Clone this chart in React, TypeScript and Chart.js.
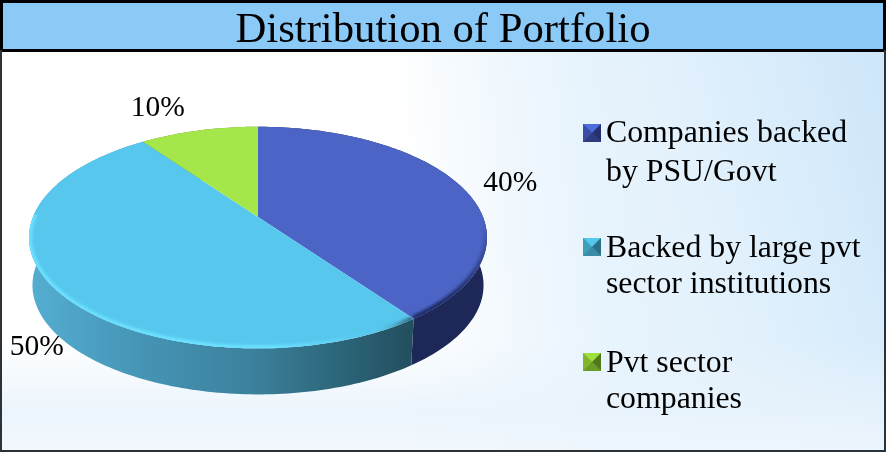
import React, { useEffect, useRef } from "react";
import { Chart, registerables } from "chart.js";

Chart.register(...registerables);

const titleText = "Distribution of Portfolio";
const categories = ["Companies backed by PSU/Govt", "Backed by large pvt sector institutions", "Pvt sector companies"];
const legendLines = [
  ["Companies backed", "by PSU/Govt"],
  ["Backed by large pvt", "sector institutions"],
  ["Pvt sector", "companies"],
];
const portfolioShare = [40, 50, 10];

const topColors = ["#4b64c5", "#57c7ee", "#a5e64b"];
const SERIF = '"Liberation Serif", "Times New Roman", serif';

// projection of the pie's unit circle onto the tilted disc
const CX = 258, CY = 217, BX = 225, BY = 107, K = 0.1855, DEPTH = 48;
const proj = (a: number, drop = 0, shrink = 1) => {
  const u = Math.cos(a), v = Math.sin(a), w = 1 - K * v;
  return [CX + (BX * shrink * u) / w, CY + drop + (BY * shrink * v) / w];
};
const arcPts = (s: number, e: number, drop = 0, shrink = 1) => {
  const n = Math.max(8, Math.ceil(Math.abs(e - s) / 0.02));
  const out: number[][] = [];
  for (let i = 0; i <= n; i++) out.push(proj(s + ((e - s) * i) / n, drop, shrink));
  return out;
};

const disc3d = {
  id: "disc3d",
  beforeDraw(chart: any) {
    const { ctx, width: W, height: H } = chart;
    ctx.save();
    ctx.fillStyle = "#ffffff";
    ctx.fillRect(0, 0, W, H);
    let g = ctx.createLinearGradient(400, 0, W, 0);
    g.addColorStop(0, "rgba(232,244,253,0)");
    g.addColorStop(0.4, "rgba(232,244,253,0.8)");
    g.addColorStop(1, "rgba(232,244,253,1)");
    ctx.fillStyle = g;
    ctx.fillRect(0, 0, W, H);
    g = ctx.createLinearGradient(420, 200, W, 50);
    g.addColorStop(0, "rgba(214,235,250,0)");
    g.addColorStop(0.5, "rgba(214,235,250,0.35)");
    g.addColorStop(1, "rgba(205,230,250,1)");
    ctx.fillStyle = g;
    ctx.fillRect(0, 0, W, H);
    g = ctx.createLinearGradient(0, 340, 0, H);
    g.addColorStop(0, "rgba(232,243,252,0)");
    g.addColorStop(0.65, "rgba(232,243,252,0.85)");
    g.addColorStop(1, "rgba(240,247,253,0.8)");
    ctx.fillStyle = g;
    ctx.fillRect(0, 340, W, H - 340);
    // title band and frame
    ctx.fillStyle = "#8bc9f7";
    ctx.fillRect(0, 0, W, 50);
    ctx.fillStyle = "#000000";
    ctx.fillRect(0, 0, W, 3);
    ctx.fillRect(0, 49, W, 3);
    ctx.fillRect(0, 0, 3, 50);
    ctx.fillRect(W - 3, 0, 3, 50);
    ctx.fillStyle = "#2b3238";
    ctx.fillRect(0, 50, 2, H - 50);
    ctx.fillRect(W - 2, 50, 2, H - 50);
    ctx.fillRect(0, H - 2, W, 2);
    ctx.restore();
  },
  beforeDatasetsDraw(chart: any) {
    const { ctx } = chart;
    const arcs = chart.getDatasetMeta(0).data;
    ctx.save();
    // side walls
    arcs.forEach((arc: any, i: number) => {
      const top = arcPts(arc.startAngle, arc.endAngle);
      const low = arcPts(arc.startAngle, arc.endAngle, DEPTH, 0.985).reverse();
      ctx.beginPath();
      [...top, ...low].forEach(([x, y], j) => (j ? ctx.lineTo(x, y) : ctx.moveTo(x, y)));
      ctx.closePath();
      if (i === 1) {
        const g = ctx.createLinearGradient(30, 0, 408, 0);
        g.addColorStop(0, "#54aed2");
        g.addColorStop(0.3, "#4594b5");
        g.addColorStop(0.6, "#3b809b");
        g.addColorStop(0.82, "#2c6579");
        g.addColorStop(1, "#235060");
        ctx.fillStyle = g;
      } else {
        ctx.fillStyle = i === 0 ? "#1e2858" : "#5f8a2c";
      }
      ctx.fill();
    });
    // top surface
    arcs.forEach((arc: any, i: number) => {
      const pts = arcPts(arc.startAngle, arc.endAngle);
      const path = new Path2D();
      path.moveTo(CX, CY);
      pts.forEach(([x, y]) => path.lineTo(x, y));
      path.closePath();
      ctx.fillStyle = topColors[i];
      ctx.fill(path);
      if (i === 2) return;
      // soft rim bevel on the near edge only
      ctx.save();
      ctx.clip(path);
      const rim = new Path2D();
      pts.forEach(([x, y], j) => (j ? rim.lineTo(x, y) : rim.moveTo(x, y)));
      if (i === 1) {
        const g = ctx.createLinearGradient(30, 0, 408, 0);
        g.addColorStop(0, "rgba(108,226,255,1)");
        g.addColorStop(0.65, "rgba(108,226,255,1)");
        g.addColorStop(0.9, "rgba(108,226,255,0)");
        g.addColorStop(1, "rgba(40,90,110,0.8)");
        ctx.beginPath();
        ctx.rect(0, 215, 886, 240);
        ctx.clip();
        ctx.strokeStyle = g;
        ctx.lineWidth = 6;
      } else {
        const g = ctx.createLinearGradient(0, 220, 0, 300);
        g.addColorStop(0, "rgba(25,35,90,0)");
        g.addColorStop(1, "rgba(25,35,90,0.9)");
        ctx.strokeStyle = g;
        ctx.lineWidth = 7;
      }
      (ctx as any).filter = "blur(1.5px)";
      ctx.stroke(rim);
      ctx.restore();
    });
    // percent labels
    const labelOffset = [[50, -2], [-17, 60], [-41, -22]];
    ctx.fillStyle = "#000000";
    ctx.font = `29.5px ${SERIF}`;
    ctx.textAlign = "center";
    ctx.textBaseline = "middle";
    arcs.forEach((arc: any, i: number) => {
      const [x, y] = proj((arc.startAngle + arc.endAngle) / 2);
      ctx.fillText(`${portfolioShare[i]}%`, x + labelOffset[i][0], y + labelOffset[i][1]);
    });
    // legend
    const swatches = [
      ["#4d6ddc", "#3a4ea5", "#2e3b80", "#26306f"],
      ["#55c8ee", "#3f9fbb", "#3a8ba6", "#2a6f85"],
      ["#9fe040", "#7fb62e", "#6a9c26", "#4f7a1b"],
    ];
    const swatchTop = [124, 238, 353];
    const baselines = [[142, 181], [257, 293], [372, 408]];
    ctx.textAlign = "left";
    ctx.textBaseline = "alphabetic";
    ctx.font = `31.8px ${SERIF}`;
    legendLines.forEach((lines, i) => {
      const x0 = 583, y0 = swatchTop[i], s = 18;
      const [c1, c2, c3, c4] = swatches[i];
      const tri = (pts: number[][], col: string) => {
        ctx.beginPath();
        pts.forEach(([x, y], j) => (j ? ctx.lineTo(x, y) : ctx.moveTo(x, y)));
        ctx.closePath();
        ctx.fillStyle = col;
        ctx.fill();
      };
      const m = [x0 + s / 2, y0 + s / 2];
      ctx.fillStyle = c2;
      ctx.fillRect(x0, y0, s, s);
      tri([[x0, y0], [x0 + s, y0], m], c1);
      tri([[x0, y0], m, [x0, y0 + s]], c2);
      tri([[x0 + s, y0], m, [x0 + s, y0 + s]], c4);
      tri([[x0, y0 + s], [x0 + s, y0 + s], m], c3);
      ctx.fillStyle = "#000000";
      lines.forEach((t, j) => ctx.fillText(t, 606, baselines[i][j]));
    });
    ctx.restore();
    return false;
  },
};

export default function App() {
  const ref = useRef<HTMLCanvasElement>(null);
  useEffect(() => {
    document.body.style.margin = "0";
    const chart = new Chart(ref.current!, {
      type: "pie",
      data: {
        labels: categories,
        datasets: [{ data: portfolioShare, backgroundColor: topColors, borderWidth: 0 }],
      },
      options: {
        responsive: false,
        animation: false,
        layout: { padding: 0 },
        plugins: {
          legend: { display: false },
          tooltip: { enabled: false },
          title: {
            display: true,
            text: titleText,
            color: "#000000",
            font: { family: SERIF, size: 42.7, weight: "normal" },
            padding: { top: 5, bottom: 4 },
          },
        },
      },
      plugins: [disc3d],
    } as any);
    return () => chart.destroy();
  }, []);
  return <canvas ref={ref} width={886} height={452} style={{ display: "block" }} />;
}
